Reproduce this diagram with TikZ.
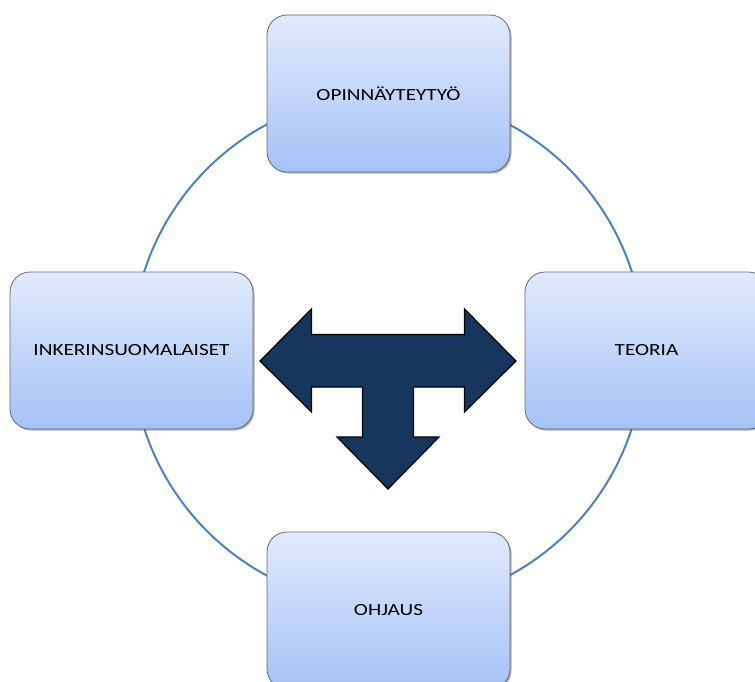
\documentclass[tikz,border=0pt]{standalone}
\usepackage{fontspec}
\setmainfont{Carlito}
\newfontfamily\boxfont[FakeStretch=1.25]{Carlito}
\usepackage{tikz}
\usetikzlibrary{positioning,shadows}
\definecolor{BoxTop}{HTML}{E1EAFC}
\definecolor{BoxBottom}{HTML}{A5C2F6}
\definecolor{BoxRule}{HTML}{626A75}
\definecolor{Ring}{HTML}{4F81BD}
\definecolor{Navy}{HTML}{17365D}

\begin{document}
\begin{tikzpicture}[
  x=1pt,y=1pt,
  box/.style={rounded corners=20pt,draw=BoxRule,thick,top color=BoxTop,bottom color=BoxBottom,
    minimum width=243pt,minimum height=157pt,font=\boxfont\fontsize{17}{19}\selectfont,
    drop shadow={shadow xshift=1.5pt,shadow yshift=-1.5pt,opacity=0.45,fill=black!70}},
  ring/.style={draw=Ring,line width=2pt},
  tarrow/.style={fill=Navy,draw=black,line width=1.2pt,line join=miter}
]
\clip (0,0) rectangle (755,-681);
\draw[ring] (388,-350) circle[radius=256];
\foreach \name/\x/\y/\lab in {thesis/388.5/-93.5/OPINNÄYTEYTYÖ,people/131.5/-350.5/INKERINSUOMALAISET,
  theory/646.5/-350.5/TEORIA,guidance/388.5/-610.5/OHJAUS}{
  \node[box] (\name) at (\x,\y) {\lab};
}
% three-way arrow in the middle
\draw[tarrow] (260,-361) -- (311.5,-309) -- (311.5,-334.5) -- (464.5,-334.5) -- (464.5,-309)
  -- (516,-361) -- (464.5,-412) -- (464.5,-387) -- (413.5,-387) -- (413.5,-437)
  -- (439,-437) -- (388,-489) -- (337,-437) -- (362.5,-437) -- (362.5,-387)
  -- (311.5,-387) -- (311.5,-412) -- cycle;
\end{tikzpicture}
\end{document}
